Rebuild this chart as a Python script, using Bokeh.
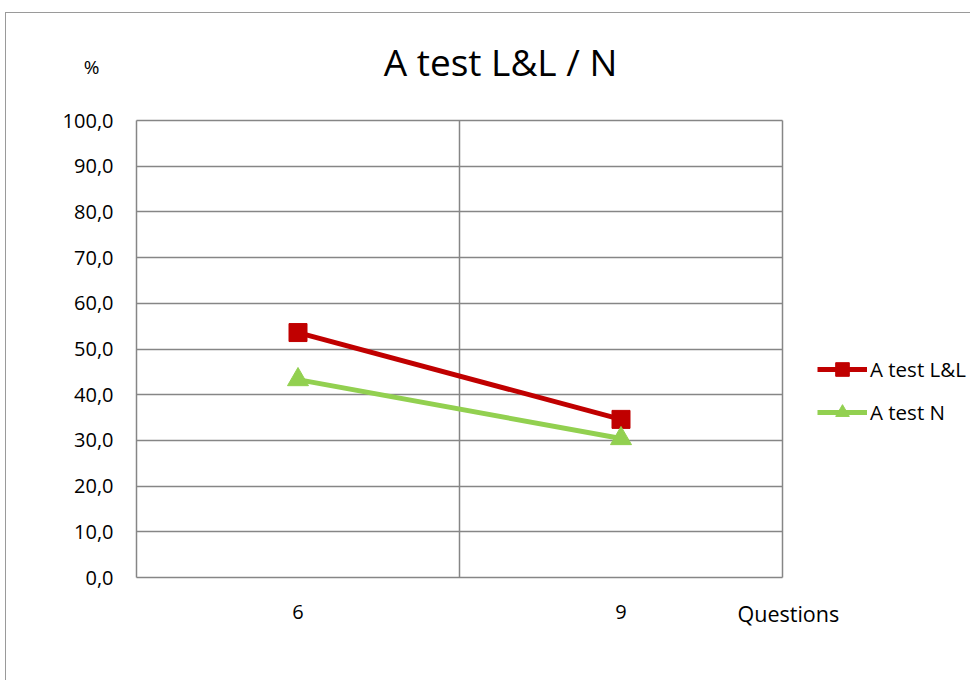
from bokeh.plotting import figure
from bokeh.models import (FixedTicker, Legend, LegendItem, Label, Range1d, LinearAxis, Grid)
from bokeh.embed import file_html
from bokeh.resources import INLINE

# ---------------- data ----------------
categories = ["6", "9"]
series_names = ["A test L&L", "A test N"]
ll_values = [53.6, 34.6]
n_values = [43.3, 30.4]
y_ticks = [0, 10, 20, 30, 40, 50, 60, 70, 80, 90, 100]
y_tick_labels = ["0,0", "10,0", "20,0", "30,0", "40,0", "50,0", "60,0", "70,0", "80,0", "90,0", "100,0"]
title_text = "A test L&L / N"
y_unit = "%"
x_title = "Questions"

# ---------------- layout (pixels on canvas) ----------------
W, H = 965, 668
PA_L, PA_R, PA_T, PA_B = 130, 776, 107, 564   # plot area box inside the canvas
FONT = "Open Sans"
GRID = "#868686"
RED = "#C00000"
GREEN = "#92D050"

n_cat = len(categories)
y_min, y_max = y_ticks[0], y_ticks[-1]
sx = (PA_R - PA_L) / n_cat
sy = (PA_B - PA_T) / (y_max - y_min)

def dx(px):
    return (px - PA_L) / sx

def dy(py):
    return y_min + (PA_B - py) / sy

xs = [i + 0.5 for i in range(n_cat)]

p = figure(width=W, height=H, output_backend="svg", toolbar_location=None,
           x_range=Range1d(dx(0), dx(W)), y_range=Range1d(dy(H), dy(0)),
           x_axis_location=None, y_axis_location=None,
           min_border=0, min_border_left=0, min_border_right=0, min_border_top=0, min_border_bottom=0)
p.background_fill_color = "white"
p.border_fill_color = "white"
p.outline_line_color = None
p.styles = {"margin-left": "5px", "margin-top": "12px",
            "border-left": "1px solid #9a9a9a", "border-top": "1px solid #9a9a9a"}

# drop default grids
p.center = [r for r in p.center if not isinstance(r, Grid)]

# ---------------- grid (plot-area frame + lines) ----------------
has_cross = "cross_bounds" in Grid.properties()
xg = Grid(dimension=0, ticker=FixedTicker(ticks=list(range(0, n_cat + 1))),
          grid_line_color=GRID, grid_line_width=1.5)
yg = Grid(dimension=1, ticker=FixedTicker(ticks=y_ticks),
          grid_line_color=GRID, grid_line_width=1.5)
if has_cross:
    xg.cross_bounds = (y_min, y_max)
    yg.cross_bounds = (0, n_cat)
    p.add_layout(xg)
    p.add_layout(yg)
else:
    gx = list(range(0, n_cat + 1))
    p.segment(x0=gx, y0=[y_min] * len(gx), x1=gx, y1=[y_max] * len(gx),
              line_color=GRID, line_width=1.5)
    p.segment(x0=[0] * len(y_ticks), y0=y_ticks, x1=[n_cat] * len(y_ticks), y1=y_ticks,
              line_color=GRID, line_width=1.5)

# ---------------- axes placed at the plot-area edges ----------------
yax = LinearAxis(fixed_location=0, bounds=(y_min, y_max), ticker=FixedTicker(ticks=y_ticks),
                 major_label_overrides={t: l for t, l in zip(y_ticks, y_tick_labels)})
xax = LinearAxis(fixed_location=y_min, bounds=(0, n_cat), ticker=FixedTicker(ticks=xs),
                 major_label_overrides={x: c for x, c in zip(xs, categories)})
for ax in (xax, yax):
    ax.axis_line_color = None
    ax.major_tick_line_color = None
    ax.minor_tick_line_color = None
    ax.major_label_text_font = FONT
    ax.major_label_text_font_size = "20px"
    ax.major_label_text_color = "black"
yax.major_label_standoff = 17
xax.major_label_standoff = 21
p.add_layout(yax, "left")
p.add_layout(xax, "below")

# ---------------- series ----------------
l1 = p.line(xs, ll_values, line_color=RED, line_width=5)
m1 = p.scatter(xs, ll_values, marker="square", size=18, fill_color=RED, line_color=RED)
l2 = p.line(xs, n_values, line_color=GREEN, line_width=5)
m2 = p.scatter(xs, n_values, marker="triangle", size=21, fill_color=GREEN, line_color=GREEN)

legend = Legend(items=[LegendItem(label=series_names[0], renderers=[l1, m1]),
                       LegendItem(label=series_names[1], renderers=[l2, m2])],
                location=(811, 252), border_line_color=None, background_fill_alpha=0,
                label_text_font=FONT, label_text_font_size="20.5px", label_text_color="black",
                glyph_width=50, glyph_height=34, label_height=20, label_standoff=3,
                spacing=9, padding=0, margin=0)
p.add_layout(legend)

# ---------------- texts ----------------
p.add_layout(Label(x=dx(494), y=dy(48), text=title_text, text_align="center", text_baseline="middle",
                   text_font=FONT, text_font_size="37px", text_color="black"))
p.add_layout(Label(x=dx(85), y=dy(53), text=y_unit, text_align="center", text_baseline="middle",
                   text_font=FONT, text_font_size="19px", text_color="black"))
p.add_layout(Label(x=dx(731), y=dy(600), text=x_title, text_align="left", text_baseline="middle",
                   text_font=FONT, text_font_size="21.5px", text_color="black"))

open("out.html", "w").write(file_html(p, INLINE))
